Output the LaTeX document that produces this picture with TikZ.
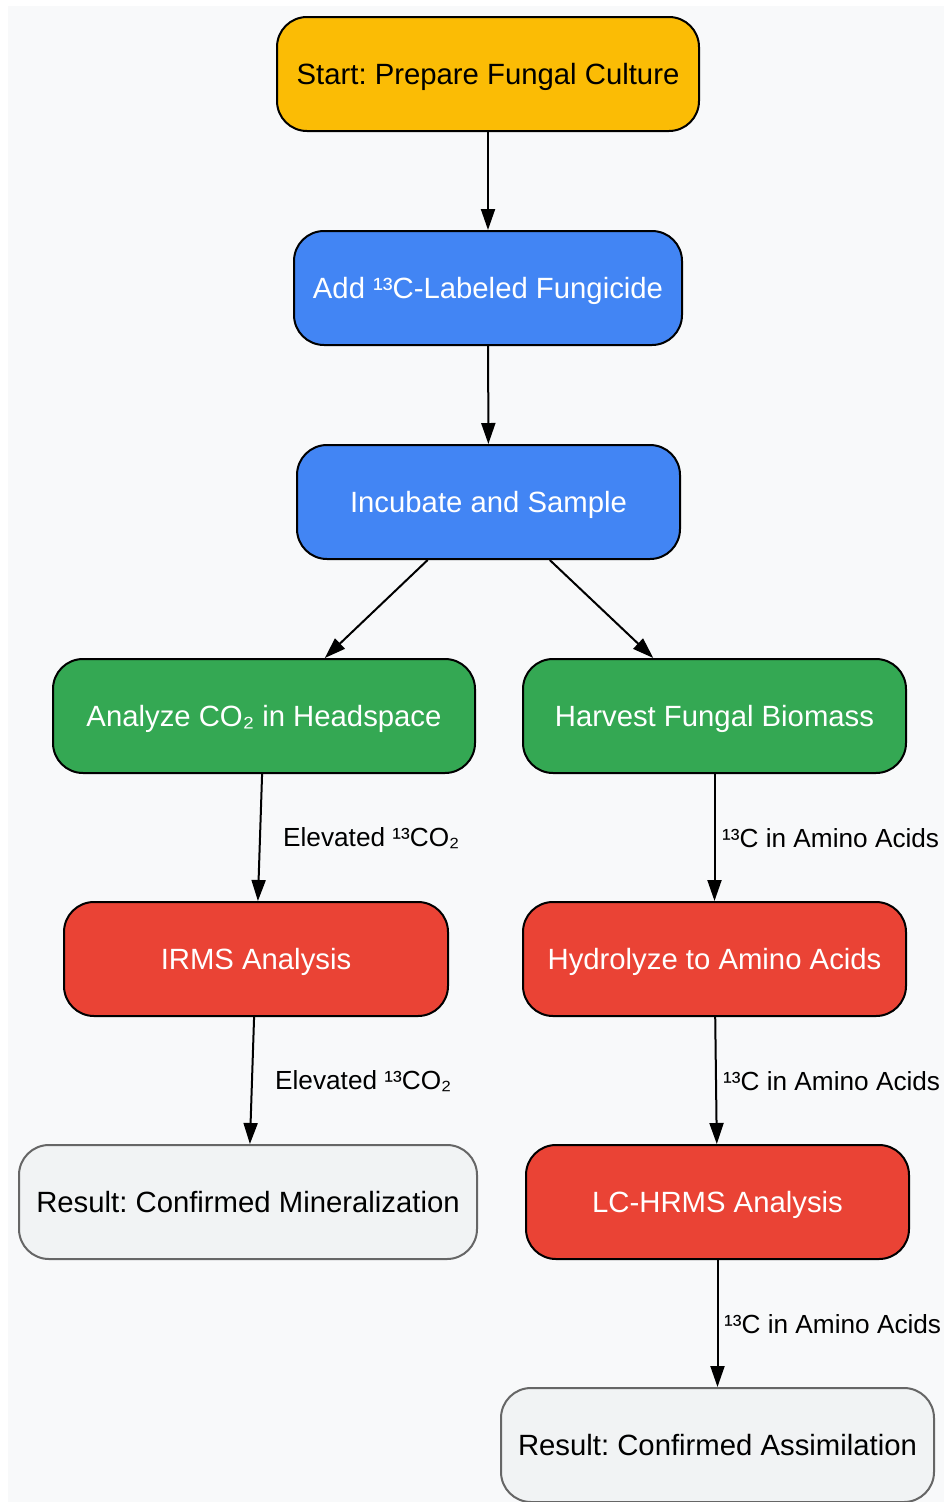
\documentclass[tikz,border=0pt]{standalone}
\usepackage{fontspec}
\setmainfont{Liberation Sans}
\usetikzlibrary{arrows.meta}
\frenchspacing
\definecolor{bgcol}{HTML}{F8F9FA}
\definecolor{cyellow}{HTML}{FBBC05}
\definecolor{cblue}{HTML}{4285F4}
\definecolor{cgreen}{HTML}{34A853}
\definecolor{cred}{HTML}{EA4335}
\definecolor{cgray}{HTML}{F1F3F4}
\definecolor{cgrayline}{HTML}{666666}
\tikzset{
  box/.style={draw=black, line width=2pt, rounded corners=30pt, minimum height=114pt,
    inner sep=0pt, text height=20pt, text depth=0pt, font=\fontsize{29.3}{34}\selectfont\frenchspacing},
  ybox/.style={box, fill=cyellow, text=black},
  bbox/.style={box, fill=cblue, text=white},
  gbox/.style={box, fill=cgreen, text=white},
  rbox/.style={box, fill=cred, text=white},
  resbox/.style={box, draw=cgrayline, fill=cgray, text=black},
  arr/.style={line width=2pt, -{Triangle[length=21pt,width=14pt]}},
  lbl/.style={anchor=west, inner sep=0pt, font=\fontsize{26.2}{30}\selectfont, text=black}
}
\begin{document}
\begin{tikzpicture}[x=1pt,y=-1pt]
\useasboundingbox (0,0) rectangle (944,1502);
\fill[bgcol] (8,6) rectangle (944,1502);
\node[ybox, minimum width=422pt] (start) at (488,74) {Start: Prepare Fungal Culture};
\node[bbox, minimum width=388pt] (add) at (488,288) {Add ¹³C-Labeled Fungicide};
\node[bbox, minimum width=383pt] (inc) at (488.5,502) {Incubate and Sample};
\node[gbox, minimum width=422pt] (an) at (264,716) {Analyze CO₂ in Headspace};
\node[gbox, minimum width=383pt] (harv) at (714.5,716) {Harvest Fungal Biomass};
\node[rbox, minimum width=384pt] (irms) at (256,959) {IRMS Analysis};
\node[rbox, minimum width=383pt] (hyd) at (714.5,959) {Hydrolyze to Amino Acids};
\node[resbox, minimum width=458pt] (resmin) at (248,1202) {Result: Confirmed Mineralization};
\node[rbox, minimum width=383pt] (lc) at (717.5,1202) {LC-HRMS Analysis};
\node[resbox, minimum width=433pt] (resas) at (717.5,1445) {Result: Confirmed Assimilation};

\draw[arr] (start) -- (add);
\draw[arr] (add) -- (inc);
\draw[arr] (inc) -- (an);
\draw[arr] (inc) -- (harv);
\draw[arr] (an) -- (irms);
\draw[arr] (harv) -- (hyd);
\draw[arr] (irms) -- (resmin);
\draw[arr] (hyd) -- (lc);
\draw[arr] (lc) -- (resas);

\node[lbl] (l1) at (283,838) {Elevated ¹³CO₂};
\node[lbl] (l2) at (722,838) {¹³C in Amino Acids};
\node[lbl] (l3) at (275,1081) {Elevated ¹³CO₂};
\node[lbl] (l4) at (723,1081) {¹³C in Amino Acids};
\node[lbl] (l5) at (724,1324) {¹³C in Amino Acids};
\end{tikzpicture}
\end{document}
